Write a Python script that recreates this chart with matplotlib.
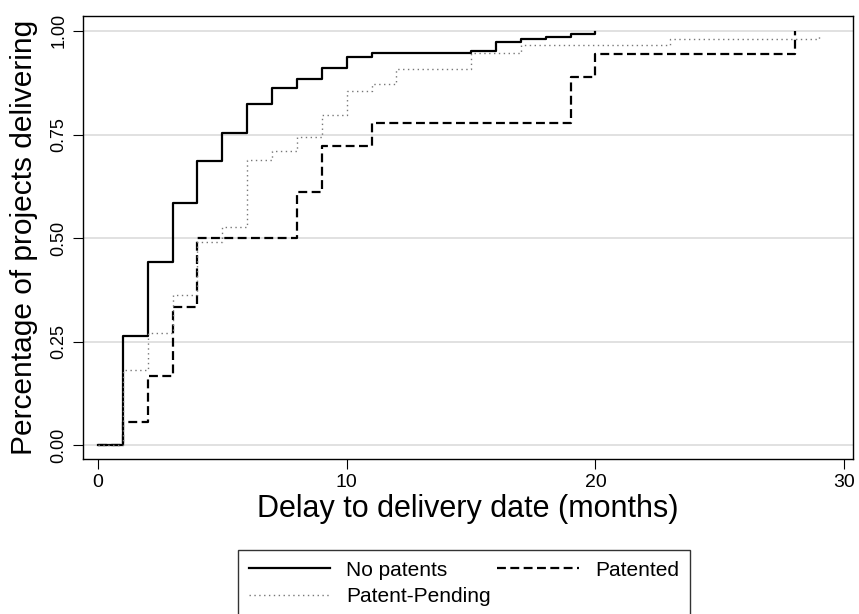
import numpy as np
import matplotlib.pyplot as plt

plt.rcParams["font.family"] = ["Liberation Sans", "DejaVu Sans"]

""" data """

# months to delivery / share of projects delivered (step functions)
t_none = [0, 1, 2, 3, 4, 5, 6, 7, 8, 9, 10, 11, 15, 16, 17, 18, 19, 20]
v_none = [0, 0.265, 0.443, 0.585, 0.687, 0.754, 0.823, 0.863, 0.883,
          0.910, 0.938, 0.946, 0.952, 0.973, 0.980, 0.986, 0.993, 0.997]

t_pat = [0, 1, 2, 3, 4, 8, 9, 11, 19, 20, 28]
v_pat = [0, 0.056, 0.167, 0.333, 0.5, 0.611, 0.722, 0.778, 0.889, 0.944, 1.0]

t_pend = [0, 1, 2, 3, 4, 5, 6, 7, 8, 9, 10, 11, 12, 15, 17, 23, 29]
v_pend = [0, 0.181, 0.272, 0.362, 0.491, 0.527, 0.688, 0.709, 0.745,
          0.797, 0.855, 0.873, 0.907, 0.946, 0.965, 0.981, 0.990]

labels = ["No patents", "Patented", "Patent-Pending"]
xticks = [0, 10, 20, 30]
yticks = [0, 0.25, 0.5, 0.75, 1.0]


""" plot """

fig = plt.figure(figsize=(8.59, 6.14), dpi=100)
ax = fig.add_axes([0.0966, 0.2524, 0.8964, 0.7216])

for y in yticks:
    ax.axhline(y, color="#dcdcdc", lw=1.2, zorder=0)

l1, = ax.step(t_none, v_none, where="post", color="black", lw=1.6)
l2, = ax.step(t_pat, v_pat, where="post", color="black", lw=1.6,
              linestyle=(0, (4, 2)))
l3, = ax.step(t_pend, v_pend, where="post", color="#777777", lw=1.0,
              linestyle=(0, (1, 2.5)))

ax.set_xlim(-0.6, 30.35)
ax.set_ylim(-0.033, 1.036)
ax.set_xticks(xticks)
ax.set_yticks(yticks)
ax.set_yticklabels(["0.00", "0.25", "0.50", "0.75", "1.00"],
                   rotation=90, va="center")
ax.tick_params(axis="x", labelsize=14, length=7, pad=4)
ax.tick_params(axis="y", labelsize=13, length=7, pad=4)

ax.set_xlabel("Delay to delivery date (months)", fontsize=22, labelpad=2)
ax.set_ylabel("Percentage of projects delivering", fontsize=21.5)
ax.yaxis.set_label_coords(-0.058, 0.5)

for s in ax.spines.values():
    s.set_linewidth(1.0)

# column-major fill: put entries so rows read No patents | Patented
leg = fig.legend([l1, l3, l2], [labels[0], labels[2], labels[1]], ncol=2,
                 loc="upper center", bbox_to_anchor=(0.54, 0.121),
                 fontsize=15, frameon=True, fancybox=False,
                 edgecolor="black", handlelength=3.9, handletextpad=0.8,
                 columnspacing=0.3, borderpad=0.5, labelspacing=0.35)
leg.get_frame().set_linewidth(1.0)

fig.savefig("out.png", dpi=100)
